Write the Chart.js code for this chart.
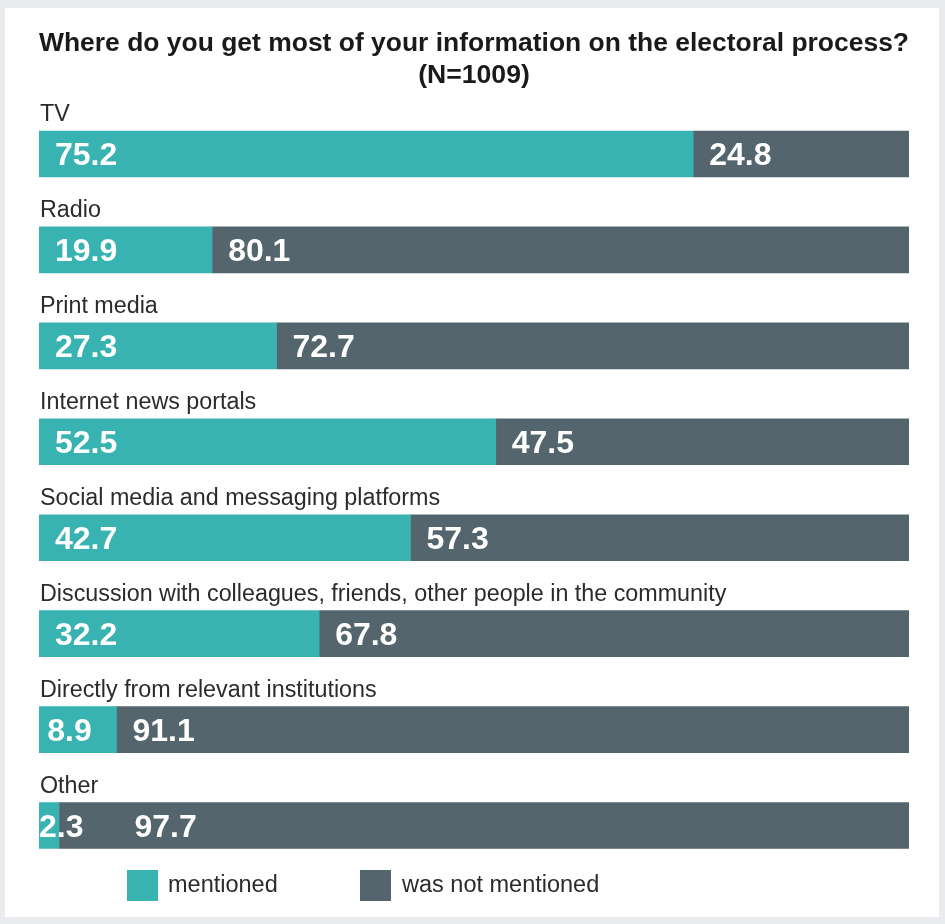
<!DOCTYPE html>
<html>
<head>
<meta charset="utf-8">
<script src="https://cdn.jsdelivr.net/npm/chart.js@4.4.1/dist/chart.umd.min.js"></script>
<style>
  html, body { margin: 0; padding: 0; }
  body { width: 945px; height: 924px; background: #e9ebee; position: relative; overflow: hidden; }
  #panel { position: absolute; left: 5px; top: 8px; width: 934px; height: 909px; background: #fff; }
  #wrap { position: absolute; left: 0; top: 0; width: 945px; height: 924px; }
</style>
</head>
<body>
<div id="panel"></div>
<div id="wrap"><canvas id="myChart" width="945" height="924"></canvas></div>
<script>
"use strict";

const categories = [
  "TV",
  "Radio",
  "Print media",
  "Internet news portals",
  "Social media and messaging platforms",
  "Discussion with colleagues, friends, other people in the community",
  "Directly from relevant institutions",
  "Other",
];
const mentioned = [75.2, 19.9, 27.3, 52.5, 42.7, 32.2, 8.9, 2.3];
const notMentioned = [24.8, 80.1, 72.7, 47.5, 57.3, 67.8, 91.1, 97.7];
const seriesNames = ["mentioned", "was not mentioned"];
const seriesColors = ["#38b3b1", "#55656d"];

const FONT = "'Liberation Sans', Arial, Helvetica, sans-serif";

// category names above each bar, values inside each segment
const barText = {
  id: "barText",
  afterDatasetsDraw(chart) {
    const ctx = chart.ctx;
    const area = chart.chartArea;
    const first = chart.getDatasetMeta(0).data;
    ctx.save();
    ctx.textAlign = "left";
    ctx.textBaseline = "alphabetic";
    first.forEach(function (bar, i) {
      ctx.fillStyle = "#2b2b2b";
      ctx.font = "23.3px " + FONT;
      ctx.fillText(categories[i], area.left + 1, bar.y - bar.height / 2 - 10);
    });

    ctx.font = "bold 32px " + FONT;
    ctx.fillStyle = "#ffffff";
    first.forEach(function (bar, i) {
      let prev = null;
      chart.data.datasets.forEach(function (ds, d) {
        const el = chart.getDatasetMeta(d).data[i];
        const start = Math.min(el.base, el.x);
        const segW = Math.abs(el.x - el.base);
        const txt = ds.data[i].toFixed(1);
        const tw = ctx.measureText(txt).width;
        let x = start + Math.min(16, Math.max(0, (segW - tw) / 4));
        // push the label along when the one before it spilled out of its bar
        if (prev !== null && prev.overflow) x = Math.max(x, prev.end + 51);
        ctx.fillText(txt, x, el.y + 11);
        prev = { end: x + tw, overflow: x + tw > start + segW };
      });
    });
    ctx.restore();
  },
};

// legend squares under the bars
const bottomLegend = {
  id: "bottomLegend",
  afterDraw(chart) {
    const ctx = chart.ctx;
    const items = [
      { box: 127, text: 168 },
      { box: 360, text: 402 },
    ];
    ctx.save();
    ctx.font = "23.5px " + FONT;
    ctx.textBaseline = "middle";
    items.forEach(function (it, i) {
      ctx.fillStyle = seriesColors[i];
      ctx.fillRect(it.box, 870, 31, 31);
      ctx.fillStyle = "#2b2b2b";
      ctx.fillText(seriesNames[i], it.text, 886);
    });
    ctx.restore();
  },
};

const data = {
  labels: categories,
  datasets: [
    { label: seriesNames[0], data: mentioned, backgroundColor: seriesColors[0], borderWidth: 0, barThickness: 46 },
    { label: seriesNames[1], data: notMentioned, backgroundColor: seriesColors[1], borderWidth: 0, barThickness: 46 },
  ],
};

const config = {
  type: "bar",
  data,
  options: {
    indexAxis: "y",
    responsive: false,
    animation: false,
    layout: { padding: { left: 39, right: 36, top: 0, bottom: 50.5 } },
    scales: {
      x: { stacked: true, min: 0, max: 100, display: false },
      y: { stacked: true, display: false },
    },
    plugins: {
      legend: { display: false },
      tooltip: { enabled: false },
      title: {
        display: true,
        text: ["Where do you get most of your information on the electoral process?", "(N=1009)"],
        color: "#1a1a1a",
        font: { family: FONT, size: 26.6, weight: "bold", lineHeight: 32 / 26.6 },
        padding: { top: 28, bottom: 14 },
      },
    },
  },
  plugins: [barText, bottomLegend],
};

const myChart = new Chart(document.getElementById("myChart"), config);
</script>
</body>
</html>
